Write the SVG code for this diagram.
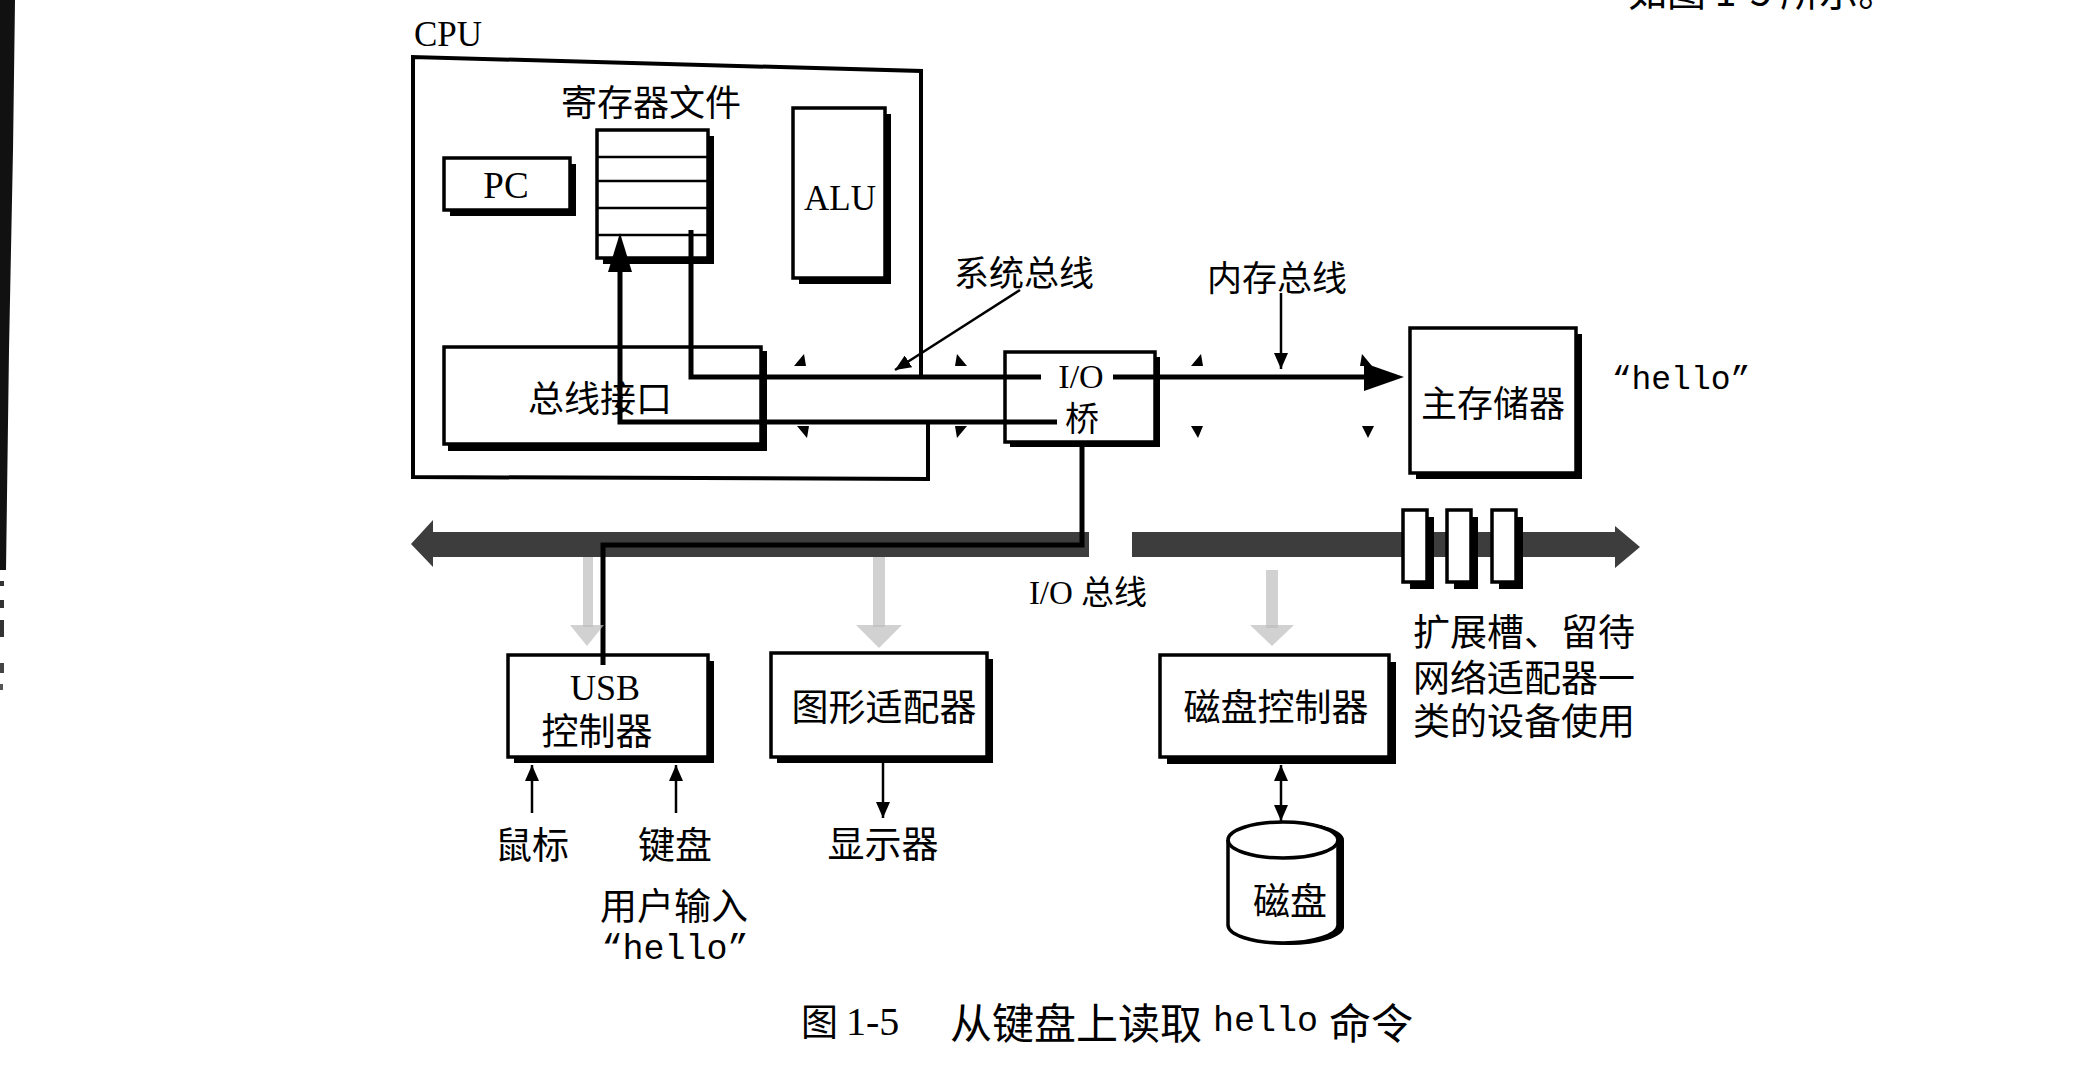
<svg xmlns="http://www.w3.org/2000/svg" width="2099" height="1080" viewBox="0 0 2099 1080">
<defs>
<style>
.box{fill:#fff;stroke:#000;stroke-width:3.5}
.sh{fill:#000}
.cjk{font-family:"Noto Sans CJK SC","Noto Sans",sans-serif;fill:#000;text-anchor:middle;dominant-baseline:central}
.ser{font-family:"Liberation Serif","Noto Sans CJK SC",serif;fill:#000;text-anchor:middle;dominant-baseline:central}
.mono{font-family:"Liberation Mono","Noto Sans CJK SC",monospace;fill:#000;text-anchor:middle;dominant-baseline:central}
.bus{fill:none;stroke:#000;stroke-width:5}
.thin{fill:none;stroke:#000;stroke-width:2.5}
.faint{fill:#bdbdbd;opacity:0.7}
.tri{fill:#000}
</style>
<marker id="ah" markerUnits="userSpaceOnUse" markerWidth="16" markerHeight="14" refX="16" refY="7" orient="auto-start-reverse">
<path d="M0,0 L16,7 L0,14 Z" fill="#000"/>
</marker>
</defs>

<rect width="2099" height="1080" fill="#fff"/>

<!-- scan border on left -->
<g id="scan-edge">
<polygon points="0,0 15,0 13,150 9,350 6,570 0,570" fill="#111"/>
<rect x="0" y="581" width="4" height="5" fill="#333"/>
<rect x="0" y="600" width="4" height="8" fill="#333"/>
<rect x="0" y="620" width="4" height="17" fill="#333"/>
<rect x="0" y="663" width="4" height="10" fill="#444"/>
<rect x="0" y="684" width="3" height="6" fill="#555"/>
</g>

<!-- clipped previous-line text -->
<text x="1628" y="6" font-family="Noto Sans CJK SC, sans-serif" font-size="39" fill="#000">如图 1-5 所示。</text>

<!-- I/O bus band -->
<g id="io-bus">
<polygon points="411,544 433,520 433,532 1089,532 1089,557 433,557 433,567" fill="#3d3d3d"/>
<polygon points="1132,532 1615,532 1615,526 1640,547 1615,568 1615,557 1132,557" fill="#3d3d3d"/>
</g>

<!-- CPU -->
<g id="cpu">
<text class="ser" x="448" y="34" font-size="35">CPU</text>
<path d="M921,377 L921,71 L413,57 L413,477 L928,479 L928,422" fill="none" stroke="#000" stroke-width="4"/>
</g>

<g id="register-file">
<text class="cjk" x="651" y="100" font-size="36">寄存器文件</text>
<rect class="sh" x="603" y="136" width="111" height="128"/>
<rect class="box" x="597" y="130" width="111" height="128"/>
<line x1="597" y1="157" x2="708" y2="157" stroke="#000" stroke-width="2.5"/>
<line x1="597" y1="181" x2="708" y2="181" stroke="#000" stroke-width="2.5"/>
<line x1="597" y1="208" x2="708" y2="208" stroke="#000" stroke-width="2.5"/>
<line x1="597" y1="235" x2="708" y2="235" stroke="#000" stroke-width="2.5"/>
</g>

<g id="pc">
<rect class="sh" x="450" y="164" width="126" height="52"/>
<rect class="box" x="444" y="158" width="126" height="52"/>
<text class="ser" x="506" y="185" font-size="37">PC</text>
</g>

<g id="alu">
<rect class="sh" x="799" y="114" width="92" height="170"/>
<rect class="box" x="793" y="108" width="92" height="170"/>
<text class="ser" x="840" y="198" font-size="35">ALU</text>
</g>

<g id="bus-interface">
<rect class="sh" x="448" y="351" width="319" height="100"/>
<rect class="box" x="444" y="347" width="317" height="97"/>
<text class="cjk" x="600" y="396" font-size="36">总线接口</text>
</g>

<g id="io-bridge">
<rect class="sh" x="1010" y="357" width="150" height="90"/>
<rect class="box" x="1005" y="352" width="150" height="90"/>
<text class="ser" font-size="34"><tspan x="1081" y="376">I/O</tspan><tspan class="cjk" x="1082" y="416">桥</tspan></text>
</g>

<g id="main-memory">
<rect class="sh" x="1416" y="334" width="166" height="145"/>
<rect class="box" x="1410" y="328" width="166" height="145"/>
<text class="cjk" x="1493" y="401" font-size="36">主存储器</text>
</g>
<text class="mono" x="1681" y="380" font-size="33">“hello”</text>

<g id="expansion-slots">
<rect class="sh" x="1410" y="517" width="24" height="72"/>
<rect class="box" x="1403" y="510" width="24" height="72" stroke-width="3"/>
<rect class="sh" x="1454" y="517" width="24" height="72"/>
<rect class="box" x="1447" y="510" width="24" height="72" stroke-width="3"/>
<rect class="sh" x="1499" y="517" width="24" height="72"/>
<rect class="box" x="1492" y="510" width="24" height="72" stroke-width="3"/>
</g>

<g id="usb-controller">
<rect class="sh" x="514" y="661" width="200" height="102"/>
<rect class="box" x="508" y="655" width="200" height="102"/>
<text class="ser" font-size="36"><tspan x="605" y="688">USB</tspan><tspan class="cjk" x="597" y="729" font-size="37">控制器</tspan></text>
</g>

<g id="graphics-adapter">
<rect class="sh" x="777" y="659" width="216" height="104"/>
<rect class="box" x="771" y="653" width="216" height="104"/>
<text class="cjk" x="884" y="705" font-size="37">图形适配器</text>
</g>

<g id="disk-controller">
<rect class="sh" x="1167" y="662" width="229" height="102"/>
<rect class="box" x="1160" y="655" width="229" height="102"/>
<text class="cjk" x="1276" y="705" font-size="37">磁盘控制器</text>
</g>

<g id="disk">
<path d="M1234,840 A55,18 0 0 1 1344,840 V927 A55,18 0 0 1 1234,927 Z" fill="#000"/>
<path d="M1228,840 A55,18 0 0 1 1338,840 V925 A55,18 0 0 1 1228,925 Z" fill="#fff" stroke="#000" stroke-width="3.5"/>
<path d="M1228,840 A55,18 0 0 0 1338,840" fill="none" stroke="#000" stroke-width="3.5"/>
<text class="cjk" x="1290" y="899" font-size="37">磁盘</text>
</g>

<g id="labels">
<text class="cjk" x="1024" y="270" font-size="35">系统总线</text>
<text class="cjk" x="1277" y="275" font-size="35">内存总线</text>
<text class="ser" x="1088" y="593" font-size="33">I/O 总线</text>
<text class="cjk" x="532" y="843" font-size="37">鼠标</text>
<text class="cjk" x="675" y="843" font-size="37">键盘</text>
<text class="cjk" x="883" y="842" font-size="37">显示器</text>
<text class="cjk" font-size="37"><tspan x="674" y="904">用户输入</tspan><tspan class="mono" x="675" y="950" font-size="35">“hello”</tspan></text>
<text class="cjk" font-size="37" style="text-anchor:start"><tspan x="1413" y="630">扩展槽、留待</tspan><tspan x="1413" y="676">网络适配器一</tspan><tspan x="1413" y="719">类的设备使用</tspan></text>
</g>

<g id="caption">
<text class="cjk" x="801" y="1020" font-size="37" style="text-anchor:start">图</text>
<text class="ser" x="846" y="1021" font-size="40" style="text-anchor:start">1-5</text>
<text class="cjk" x="950" y="1020" font-size="42" style="text-anchor:start">从键盘上读取</text>
<text class="mono" x="1213" y="1022" font-size="35" style="text-anchor:start">hello</text>
<text class="cjk" x="1329" y="1020" font-size="42" style="text-anchor:start">命令</text>
</g>

<g id="connectors">
<!-- system bus lines -->
<polyline class="bus" points="620,268 620,422 1057,422"/>
<polygon points="620,233 608,272 632,272" fill="#000"/>
<polyline class="bus" points="691,230 691,377 1041,377"/>
<!-- memory bus -->
<line class="bus" x1="1113" y1="377" x2="1368" y2="377"/>
<polygon points="1404,377 1364,363 1364,391" fill="#000"/>
<!-- bridge to I/O bus to USB -->
<polyline class="bus" points="1082,442 1082,545 603,545 603,665"/>
<!-- faint bus taps -->
<rect class="faint" x="583" y="557" width="10" height="70"/>
<polygon class="faint" points="570,625 604,625 587,646"/>
<rect class="faint" x="873" y="557" width="12" height="70"/>
<polygon class="faint" points="856,625 902,625 879,648"/>
<rect class="faint" x="1266" y="570" width="12" height="58"/>
<polygon class="faint" points="1250,625 1294,625 1272,646"/>
<!-- annotation arrows -->
<line class="thin" x1="1020" y1="290" x2="895" y2="370" marker-end="url(#ah)"/>
<line class="thin" x1="1281" y1="293" x2="1281" y2="369" marker-end="url(#ah)"/>
<!-- small bus markers -->
<polygon class="tri" points="794,366 806,366 804,354"/>
<polygon class="tri" points="955,366 967,366 957,354"/>
<polygon class="tri" points="797,426 809,426 807,438"/>
<polygon class="tri" points="955,426 967,426 957,438"/>
<polygon class="tri" points="1191,366 1203,366 1201,354"/>
<polygon class="tri" points="1360,366 1372,366 1362,354"/>
<polygon class="tri" points="1191,426 1203,426 1198,438"/>
<polygon class="tri" points="1362,426 1374,426 1368,438"/>
<!-- device arrows -->
<line class="thin" x1="532" y1="813" x2="532" y2="765" marker-end="url(#ah)"/>
<line class="thin" x1="676" y1="813" x2="676" y2="765" marker-end="url(#ah)"/>
<line class="thin" x1="883" y1="763" x2="883" y2="818" marker-end="url(#ah)"/>
<line class="thin" x1="1281" y1="765" x2="1281" y2="821" marker-start="url(#ah)" marker-end="url(#ah)"/>
</g>
</svg>
